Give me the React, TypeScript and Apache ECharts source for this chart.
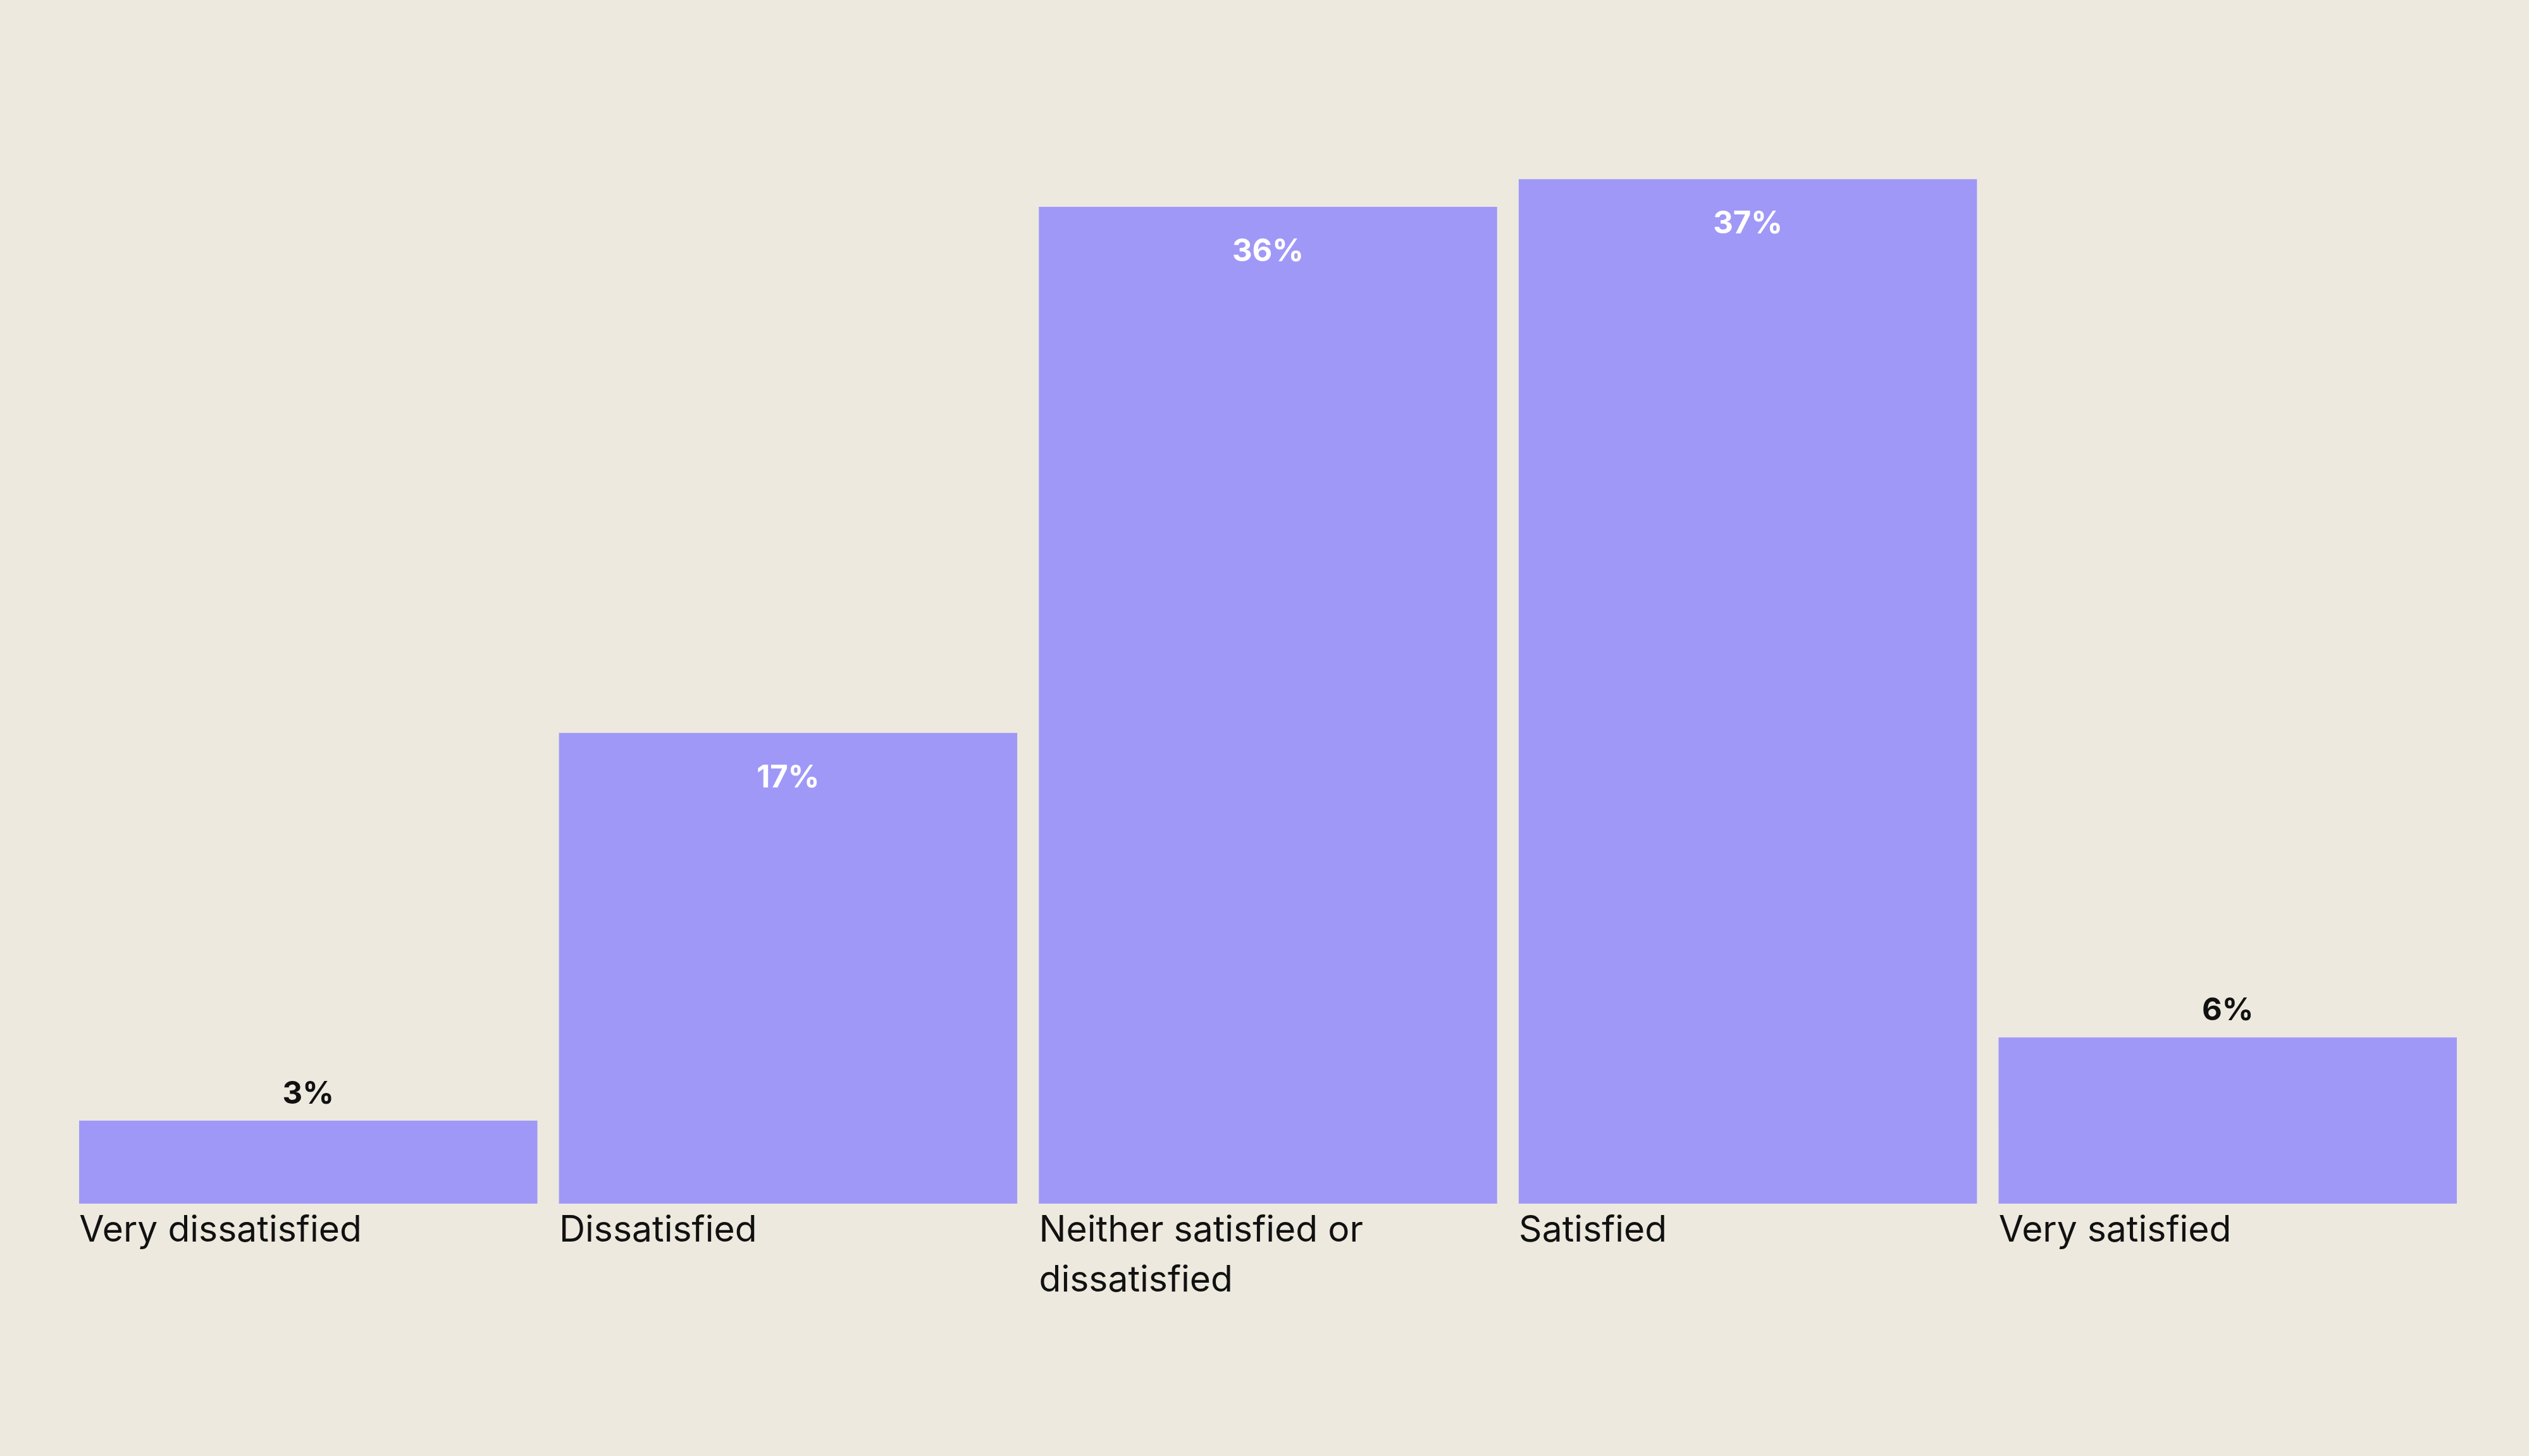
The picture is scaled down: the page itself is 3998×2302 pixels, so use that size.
import React, { useEffect, useRef } from "react";
import * as echarts from "echarts";

const categories = [
  "Very dissatisfied",
  "Dissatisfied",
  "Neither satisfied or dissatisfied",
  "Satisfied",
  "Very satisfied",
];
const values = [3, 17, 36, 37, 6];
const insideThreshold = 10;

export default function App() {
  const ref = useRef<HTMLDivElement>(null);
  useEffect(() => {
    document.body.style.margin = "0";
    const chart = echarts.init(ref.current!, null, { renderer: "svg" });
    chart.setOption({
      animation: false,
      backgroundColor: "#EDE9DE",
      grid: { left: 108, right: 97, top: 152, bottom: 399 },
      xAxis: {
        type: "category",
        data: categories,
        axisLine: { show: false },
        axisTick: { show: false },
        axisLabel: {
          interval: 0,
          align: "left",
          verticalAlign: "top",
          padding: [0, 0, 0, -362],
          width: 724,
          overflow: "break",
          fontFamily: "Inter",
          fontSize: 57,
          lineHeight: 79,
          color: "#111111",
          margin: 0,
        },
      },
      yAxis: { type: "value", min: 0, max: 40, show: false },
      series: [
        {
          type: "bar",
          barCategoryGap: "4.5%",
          itemStyle: { color: "#A098F7" },
          label: {
            show: true,
            formatter: "{c}%",
            fontFamily: "Inter",
            fontWeight: "bold",
            fontSize: 49,
          },
          data: values.map((v) => ({
            value: v,
            label:
              v >= insideThreshold
                ? { position: "insideTop", distance: 44, color: "#ffffff" }
                : { position: "top", distance: 20, color: "#111111" },
          })),
        },
      ],
    });
    return () => chart.dispose();
  }, []);
  return (
    <div
      ref={ref}
      style={{ position: "fixed", left: 0, top: 0, width: "100vw", height: "100vh" }}
    />
  );
}
